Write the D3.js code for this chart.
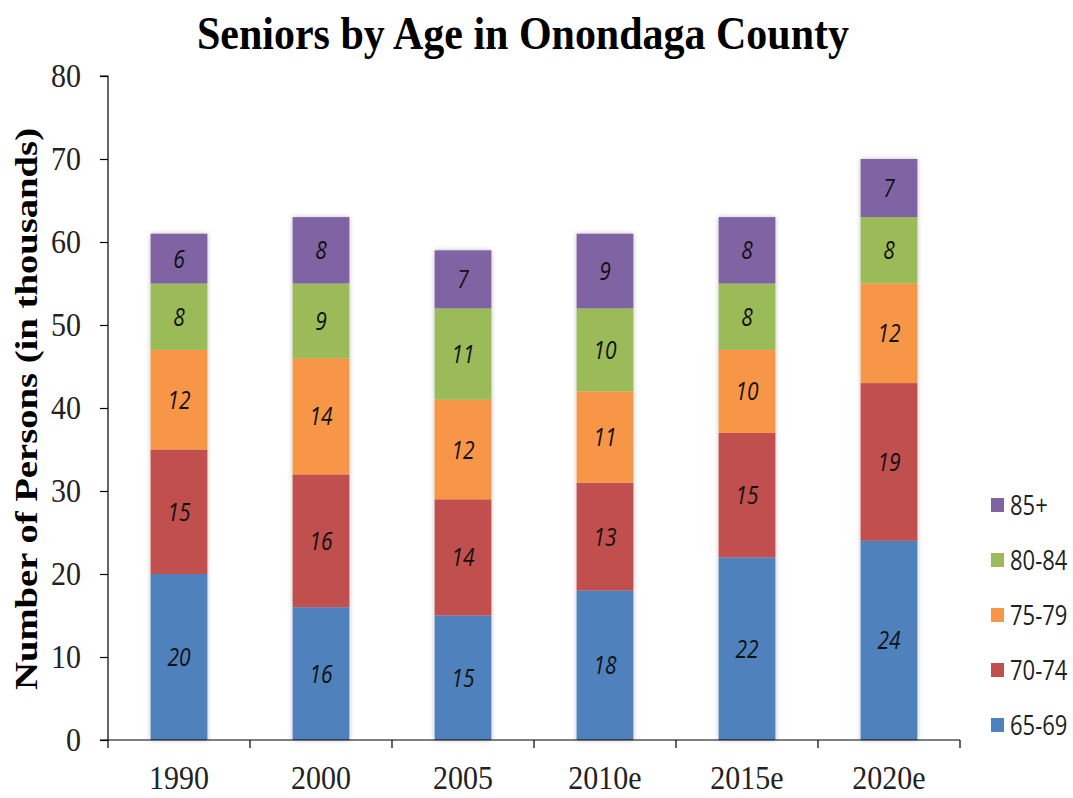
<!DOCTYPE html>
<html>
<head>
<meta charset="utf-8">
<script src="https://cdnjs.cloudflare.com/ajax/libs/d3/7.8.5/d3.min.js"></script>
<style>
  body { margin: 0; background: #fff; }
  svg { display: block; }
  .axis path, .axis line { stroke: #000; stroke-width: 1.2; }
  .axis text { font-family: "Liberation Serif", serif; font-size: 30px; fill: #222; }
</style>
</head>
<body>
<div id="container"></div>
<script>
// ---------------------------- data ----------------------------
const years = ["1990", "2000", "2005", "2010e", "2015e", "2020e"];
const ageGroups = ["65-69", "70-74", "75-79", "80-84", "85+"];
const age65to69 = [20, 16, 15, 18, 22, 24];
const age70to74 = [15, 16, 14, 13, 15, 19];
const age75to79 = [12, 14, 12, 11, 10, 12];
const age80to84 = [8, 9, 11, 10, 8, 8];
const age85plus = [6, 8, 7, 9, 8, 7];
const yTicks = [0, 10, 20, 30, 40, 50, 60, 70, 80];
const colors = ["#4F81BD", "#C0504D", "#F79646", "#9BBB59", "#8064A2"];

// ---------------------------- svg ----------------------------
const width = 1073, height = 798;
const margin = { left: 108, right: 113, top: 76, bottom: 58 };

const svg = d3.select("#container").append("svg")
  .attr("width", width)
  .attr("height", height);

const defs = svg.append("defs");
const shadow = defs.append("filter").attr("id", "shadow")
  .attr("x", "-20%").attr("y", "-5%").attr("width", "140%").attr("height", "110%");
shadow.append("feDropShadow")
  .attr("dx", 0).attr("dy", 0).attr("stdDeviation", 2.5)
  .attr("flood-color", "#000").attr("flood-opacity", 0.25);

// table for the stack
const series = [age65to69, age70to74, age75to79, age80to84, age85plus];
const table = years.map((y, i) => {
  const row = { year: y };
  ageGroups.forEach((g, k) => row[g] = series[k][i]);
  return row;
});
const stacked = d3.stack().keys(ageGroups)(table);

// ---------------------------- scales ----------------------------
const x = d3.scaleBand()
  .domain(years)
  .range([margin.left, width - margin.right])
  .paddingInner(0.6)
  .paddingOuter(0.3);

const xTicksScale = d3.scaleLinear()
  .domain([0, years.length])
  .range([margin.left, width - margin.right]);

const y = d3.scaleLinear()
  .domain([0, 80])
  .range([height - margin.bottom, margin.top]);

const color = d3.scaleOrdinal().domain(ageGroups).range(colors);

// ---------------------------- bars ----------------------------
const barGroups = svg.append("g").selectAll("g.bar")
  .data(years)
  .enter().append("g")
  .attr("filter", "url(#shadow)");

barGroups.each(function (yr, i) {
  const g = d3.select(this);
  stacked.forEach(layer => {
    const d = layer[i];
    g.append("rect")
      .attr("x", x(yr))
      .attr("width", x.bandwidth())
      .attr("y", y(d[1]))
      .attr("height", y(d[0]) - y(d[1]))
      .attr("fill", color(layer.key));
  });
});

// data labels (slightly tall, narrow italic like the original)
stacked.forEach(layer => {
  svg.append("g").selectAll("g")
    .data(layer)
    .enter().append("g")
    .attr("transform", d => "translate(" + (x(d.data.year) + x.bandwidth() / 2) + "," +
      y((d[0] + d[1]) / 2) + ") scale(1,1.2)")
    .append("text")
    .attr("dy", "0.36em")
    .attr("text-anchor", "middle")
    .style("font-family", "'Open Sans', sans-serif")
    .style("font-style", "italic")
    .style("font-size", "21px")
    .style("fill", "#111")
    .text(d => d[1] - d[0]);
});

// ---------------------------- axes ----------------------------
const yAxis = d3.axisLeft(y).tickValues(yTicks).tickSize(8).tickPadding(19);
svg.append("g")
  .attr("class", "axis")
  .attr("transform", "translate(" + margin.left + ",0)")
  .call(yAxis)
  .call(g => g.select(".domain").attr("d", "M-8," + y(80) + "H0V" + y(0)))
  .call(g => g.selectAll(".tick text").attr("transform", "scale(1,1.15)").attr("dy", "0.3em"));

// x axis line with ticks between categories
const xg = svg.append("g").attr("class", "axis");
xg.append("line")
  .attr("x1", margin.left - 8).attr("x2", width - margin.right)
  .attr("y1", y(0)).attr("y2", y(0));
xg.selectAll("line.tick")
  .data(d3.range(years.length + 1))
  .enter().append("line")
  .attr("x1", d => xTicksScale(d)).attr("x2", d => xTicksScale(d))
  .attr("y1", y(0)).attr("y2", y(0) + 8);
xg.selectAll("g.xlab")
  .data(years)
  .enter().append("g")
  .attr("transform", d => "translate(" + (x(d) + x.bandwidth() / 2) + "," + (y(0) + 49) + ") scale(1,1.15)")
  .append("text")
  .attr("text-anchor", "middle")
  .text(d => d);

// ---------------------------- titles ----------------------------
svg.append("text")
  .attr("transform", "translate(523,49) scale(1,1.1)")
  .attr("text-anchor", "middle")
  .style("font-family", "'Liberation Serif', serif")
  .style("font-weight", "bold")
  .style("font-size", "42px")
  .text("Seniors by Age in Onondaga County");

svg.append("text")
  .attr("transform", "translate(37,409) rotate(-90)")
  .attr("text-anchor", "middle")
  .attr("textLength", 562)
  .attr("lengthAdjust", "spacingAndGlyphs")
  .style("font-family", "'Liberation Serif', serif")
  .style("font-weight", "bold")
  .style("font-size", "32px")
  .text("Number of  Persons (in thousands)");

// ---------------------------- legend ----------------------------
const legend = svg.append("g").selectAll("g")
  .data(ageGroups.slice().reverse())
  .enter().append("g")
  .attr("transform", (d, i) => "translate(991," + (505 + i * 55) + ")");

legend.append("rect")
  .attr("x", 0).attr("y", -7)
  .attr("width", 13).attr("height", 14)
  .attr("fill", d => color(d));

legend.append("text")
  .attr("transform", "translate(19,0) scale(1,1.2)")
  .attr("dy", "0.36em")
  .style("font-family", "'Open Sans', sans-serif")
  .style("font-size", "22px")
  .style("fill", "#222")
  .text(d => d);
</script>
</body>
</html>
